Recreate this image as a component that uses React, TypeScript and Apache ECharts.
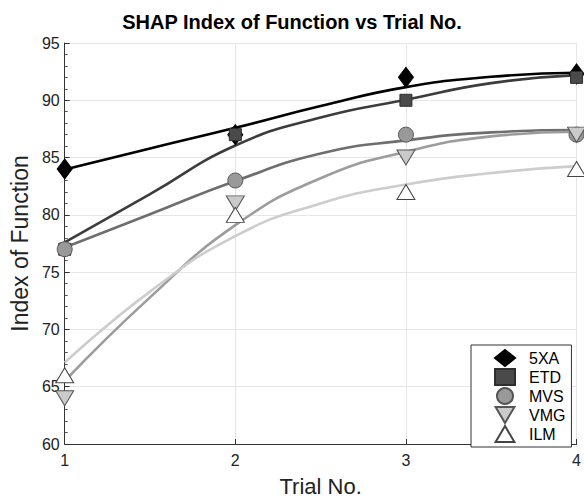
import React, { useEffect, useRef } from "react";
import * as echarts from "echarts";

const trials = [1, 2, 3, 4];
const seriesNames = ["5XA", "ETD", "MVS", "VMG", "ILM"];
const v5XA = [84, 87, 92, 92.3];
const vETD = [77, 87, 90, 92];
const vMVS = [77, 83, 87, 87];
const vVMG = [64, 81, 85, 87];
const vILM = [66, 80, 82, 84];
// fitted curves
const fitX = [1, 1.5, 2, 2.5, 3, 3.5, 4];
const fit5XA = [83.95, 85.8, 87.6, 89.5, 91.15, 92.05, 92.4];
const fitETD = [77.6, 81.8, 86.05, 88.5, 90.05, 91.5, 92.2];
const fitMVS = [77.15, 80.05, 82.95, 85.35, 86.5, 87.2, 87.4];
const fitVMG = [65.5, 72.8, 79.1, 83.2, 85.5, 86.85, 87.25];
const fitILM = [67.1, 73.3, 78.15, 81.0, 82.65, 83.65, 84.25];
const yTicks = [60, 65, 70, 75, 80, 85, 90, 95];

const FONT = "'Liberation Sans', Arial, Helvetica, sans-serif";

const pair = (xs: number[], ys: number[]) => xs.map((x, i) => [x, ys[i]]);

export default function App() {
  const ref = useRef<HTMLDivElement>(null);
  useEffect(() => {
    if (!ref.current) return;
    const chart = echarts.init(ref.current, undefined, { renderer: "svg" });
    const lineColors = ["#000000", "#3c3c3c", "#6e6e6e", "#9c9c9c", "#cdcdcd"];
    const fits = [fit5XA, fitETD, fitMVS, fitVMG, fitILM];
    const vals = [v5XA, vETD, vMVS, vVMG, vILM];
    const symbols = [
      "diamond",
      "rect",
      "circle",
      "path://M0,0L2,0L1,1.7Z",
      "path://M1,0L2,1.7L0,1.7Z",
    ];
    const sizes: any[] = [[15, 20], [12, 12], [15, 15], [18, 15], [18, 15]];
    const fills = ["#000000", "#4a4a4a", "#999999", "#cacaca", "#ffffff"];
    const borders = ["#000000", "#2e2e2e", "#555555", "#555555", "#444444"];

    const lineSeries = fits.map((f, i) => ({
      name: "fit" + seriesNames[i],
      type: "line",
      data: pair(fitX, f),
      smooth: 0.5,
      showSymbol: false,
      symbol: "none",
      lineStyle: { color: lineColors[i], width: 2.6 },
      z: 2,
      silent: true,
    }));
    const scatterSeries = vals.map((v, i) => ({
      name: seriesNames[i],
      type: "scatter",
      data: pair(trials, v),
      symbol: symbols[i],
      symbolSize: sizes[i],
      itemStyle: { color: fills[i], borderColor: borders[i], borderWidth: 1, opacity: 1 },
      z: 3 + i,
    }));

    chart.setOption({
      animation: false,
      backgroundColor: "#ffffff",
      title: {
        text: "SHAP Index of Function vs Trial No.",
        left: "center",
        top: 7,
        textStyle: { fontFamily: FONT, fontSize: 20, fontWeight: "bold", color: "#000" },
      },
      grid: { left: 62, top: 43, width: 520, height: 410, containLabel: false },
      xAxis: {
        type: "value",
        min: 1,
        max: 4,
        interval: 1,
        name: "Trial No.",
        nameLocation: "middle",
        nameGap: 31,
        nameTextStyle: { fontFamily: FONT, fontSize: 22, color: "#222" },
        axisLine: { lineStyle: { color: "#333", width: 1 } },
        axisTick: { inside: true, length: 5, lineStyle: { color: "#333" } },
        axisLabel: { fontFamily: FONT, fontSize: 16, color: "#222", margin: 8 },
        splitLine: { show: true, lineStyle: { color: "#e6e6e6", width: 1 } },
      },
      yAxis: {
        type: "value",
        min: yTicks[0],
        max: yTicks[yTicks.length - 1],
        interval: 5,
        name: "Index of Function",
        nameLocation: "middle",
        nameGap: 29,
        nameTextStyle: { fontFamily: FONT, fontSize: 23, color: "#222" },
        axisLine: { show: true, lineStyle: { color: "#333", width: 1 } },
        axisTick: { show: true, inside: true, length: 5, lineStyle: { color: "#333" } },
        minorTick: { show: true, splitNumber: 5, length: 3, lineStyle: { color: "#555" } },
        axisLabel: { fontFamily: FONT, fontSize: 16, color: "#222", margin: 5 },
        splitLine: { show: true, lineStyle: { color: "#e6e6e6", width: 1 } },
      },
      legend: {
        data: seriesNames,
        orient: "vertical",
        left: 471,
        top: 345,
        padding: [4, 6, 4, 23],
        itemWidth: 20,
        itemHeight: 16,
        itemGap: 1,
        borderColor: "#333",
        borderWidth: 1,
        backgroundColor: "#fff",
        textStyle: {
          fontFamily: FONT,
          fontSize: 16,
          color: "#000",
          padding: [0, 0, 0, 9],
        },
      },
      series: [...lineSeries, ...scatterSeries],
    });
    return () => chart.dispose();
  }, []);
  return (
    <div
      ref={ref}
      style={{ position: "fixed", left: 0, top: 0, width: 584, height: 502 }}
    />
  );
}
